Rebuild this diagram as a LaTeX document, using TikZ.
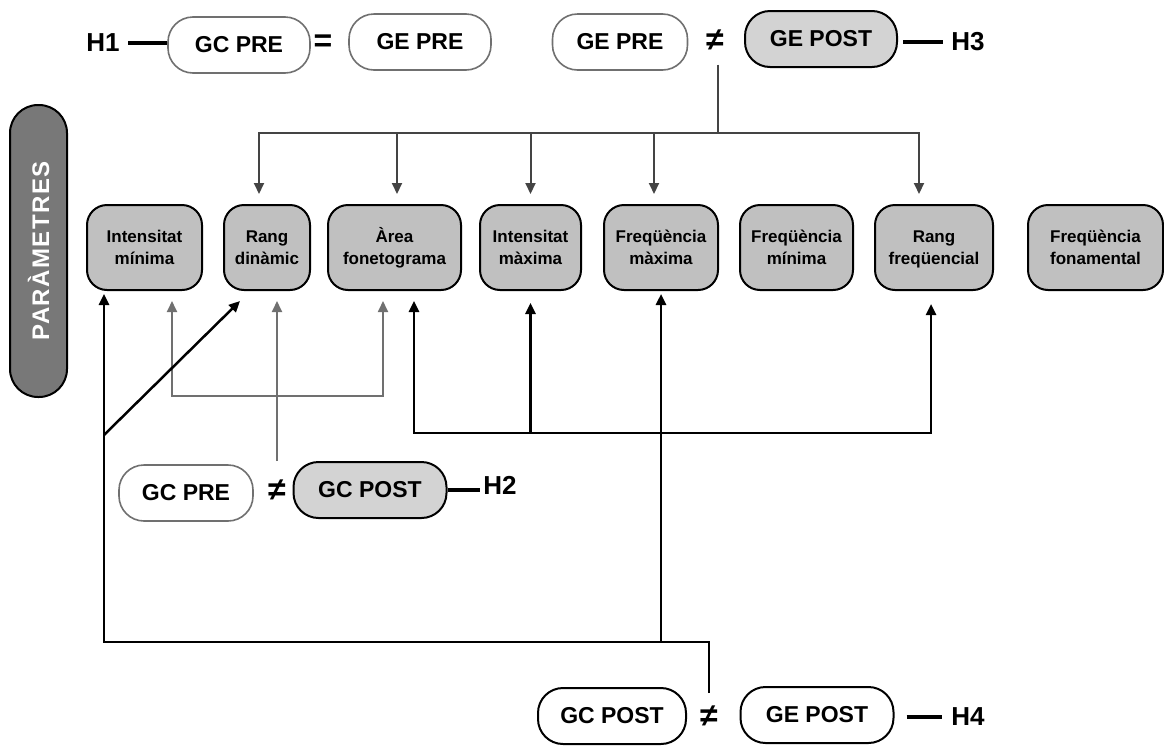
\documentclass[tikz,border=0pt]{standalone}
\usepackage{fontspec}
\setmainfont{Liberation Sans}
\newfontfamily\spacedsans[LetterSpace=6]{Liberation Sans}
\usetikzlibrary{arrows.meta,positioning,calc}

\definecolor{paramgray}{HTML}{C0C0C0}
\definecolor{postgray}{HTML}{D3D3D3}
\definecolor{pillgray}{HTML}{787878}
\definecolor{darkline}{HTML}{444444}
\definecolor{midline}{HTML}{707070}

\tikzset{
  >={Triangle[length=11pt,width=10pt]},
  param/.style={rectangle, rounded corners=20pt, draw=black, line width=2pt,
    fill=paramgray, minimum height=85pt, align=center,
    font=\fontsize{17}{22}\selectfont\bfseries},
  groupbox/.style={rectangle, rounded corners=25pt, minimum height=56pt,
    font=\fontsize{23}{26}\selectfont\bfseries},
  prebox/.style={groupbox, draw=midline, line width=1.6pt, fill=white},
  postbox/.style={groupbox, draw=black, line width=2pt, fill=postgray},
  plainbox/.style={groupbox, draw=black, line width=2pt, fill=white},
  hyp/.style={font=\fontsize{26}{30}\selectfont\bfseries},
  rel/.style={font=\fontsize{32}{34}\selectfont\bfseries, inner sep=0pt},
  hypline/.style={line width=3.5pt},
  h3link/.style={draw=darkline, line width=2pt},
  h2link/.style={draw=midline, line width=1.8pt},
  h4link/.style={draw=black, line width=2.5pt},
}

\begin{document}
\begin{tikzpicture}[x=1pt, y=-1pt]
    \useasboundingbox (0,0) rectangle (1164,745);

    % side label
    \node[rectangle, rounded corners=28pt, draw, line width=2pt, fill=pillgray, rotate=90,
          minimum width=292pt, minimum height=57pt, text=white,
          font=\fontsize{24}{26}\selectfont\spacedsans\bfseries] (params) at (38.5,251) {PARÀMETRES};

    % parameters
    \node[param, minimum width=115pt] (imin) at (144.5,247.5) {Intensitat\\mínima};
    \node[param, minimum width=86pt] (rdin) at (267,247.5) {Rang\\dinàmic};
    \node[param, minimum width=133pt] (area) at (394.5,247.5) {Àrea\\fonetograma};
    \node[param, minimum width=101pt] (imax) at (530.5,247.5) {Intensitat\\màxima};
    \node[param, minimum width=114pt] (fmax) at (661,247.5) {Freqüència\\màxima};
    \node[param, minimum width=113pt] (fmin) at (796.5,247.5) {Freqüència\\mínima};
    \node[param, minimum width=118pt] (rfreq) at (934,247.5) {Rang\vphantom{À}\\freqüencial};
    \node[param, minimum width=135pt] (ffon) at (1095.5,247.5) {Freqüència\\fonamental};

    % H1 and H3
    \node[hyp] (h1) at (103,43) {H1};
    \node[prebox, minimum width=142pt] (gcpre1) at (239,45) {GC PRE};
    \node[rel] (eq1) at (323,43) {=};
    \node[prebox, minimum width=142pt] (gepre1) at (420,42) {GE PRE};
    \node[prebox, minimum width=135pt] (gepre3) at (620,42) {GE PRE};
    \node[rel] (neq3) at (715,40) {≠};
    \node[postbox, minimum width=152pt] (gepost3) at (821,39) {GE POST};
    \node[hyp] (h3) at (968,42) {H3};
    \draw[hypline, shorten <=5pt] (h1.east) -- (h1.east -| gcpre1.west);
    \draw[hypline, shorten <=5pt, shorten >=5pt] (gepost3.east |- h3) -- (h3.west);

    % H2
    \node[prebox, minimum width=134pt] (gcpre2) at (186,493) {GC PRE};
    \node[rel] (neq2) at (277,490) {≠};
    \node[postbox, minimum width=153pt] (gcpost2) at (370,490) {GC POST};
    \node[hyp] (h2) at (500,485) {H2};
    \draw[hypline] (gcpost2.east) -- (gcpost2.east -| h2.west);

    % H4
    \node[plainbox, minimum width=148pt] (gcpost4) at (612,716) {GC POST};
    \node[rel] (neq4) at (709,716) {≠};
    \node[plainbox, minimum width=153pt] (gepost4) at (817,715) {GE POST};
    \node[hyp] (h4) at (968,717) {H4};
    \draw[hypline, shorten <=12pt, shorten >=6pt] (gepost4.east |- h4) -- (h4.west);

    % H3 links
    \coordinate (top3) at (718,133);
    \draw[h3link, shorten <=14pt] (neq3.south -| top3) -- (top3);
    \draw[h3link, ->, shorten >=10pt] (top3) -| ([xshift=-8pt]rdin.north);
    \draw[h3link, ->, shorten >=10pt] (top3) -| ([xshift=-15pt]rfreq.north);
    \foreach \n/\dx in {area/2.5, imax/0, fmax/-7}
        \draw[h3link, ->, shorten >=10pt] ([xshift=\dx pt]\n.north |- top3) -- ([xshift=\dx pt]\n.north);

    % H2 links
    \coordinate (low2) at (277,396);
    \draw[h2link, ->, shorten >=10pt] (neq2 |- gcpost2.north) -- (neq2 |- rdin.south);
    \draw[h2link, <->, shorten <=10pt, shorten >=10pt] ([xshift=27.5pt]imin.south) |- (low2) -| ([xshift=-11.5pt]area.south);

    % H4 links
    \coordinate (knee4) at (661,642);
    \coordinate (fork4) at (104,435);
    \coordinate (mid4) at (661,433);
    \draw[h4link] ([yshift=-7pt]neq4 |- gepost4.north) |- (knee4);
    \draw[h4link, ->, shorten >=3pt] (knee4) -- (fmax.south);
    \draw[h4link, ->, shorten >=3pt] (knee4) -| ([xshift=-40.5pt]imin.south);
    \draw[h4link, ->] (fork4) -- ($(rdin.south west)+(17,10)$);
    \draw[h4link, <->, shorten <=10pt, shorten >=13pt] ([xshift=19.5pt]area.south) |- (mid4) -| ([xshift=-3pt]rfreq.south);
    \draw[h4link, ->, shorten >=12pt] (imax.south |- mid4) -- (imax.south);
\end{tikzpicture}
\end{document}
